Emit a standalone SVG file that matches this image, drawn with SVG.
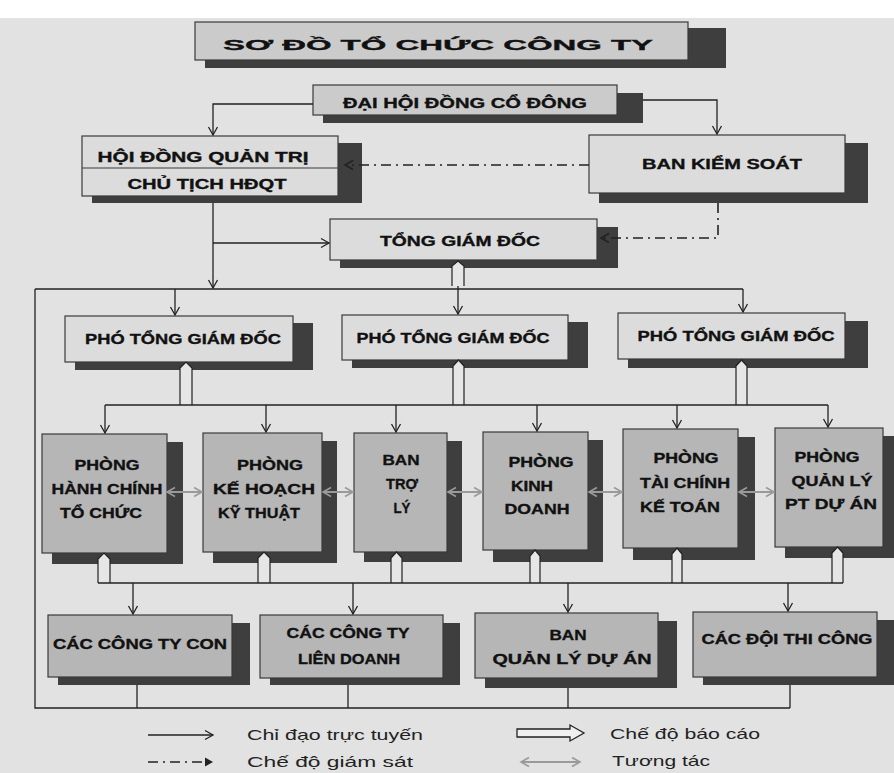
<svg xmlns="http://www.w3.org/2000/svg" width="894" height="773" viewBox="0 0 894 773">
<style>
.bx{fill:#dcdcdc;stroke:#3a3a3a;stroke-width:1.2}
.bt{fill:#cbcbcb;stroke:#3a3a3a;stroke-width:1.2}
.bd{fill:#b6b6b6;stroke:#3a3a3a;stroke-width:1.2}
.sh{fill:#3e3e3e}
.t{font-family:"Liberation Sans",Arial,sans-serif;font-weight:bold;fill:#111;stroke:#111;stroke-width:0.35;text-anchor:middle;font-size:15px}
.lg{font-family:"Liberation Sans",Arial,sans-serif;fill:#222;font-size:15px}
.ln{stroke:#222;stroke-width:1.3;fill:none}
.dd{stroke:#222;stroke-width:1.6;stroke-dasharray:10 5 2 5;fill:none}
.ia{stroke:#9a9a9a;stroke-width:2;fill:none}
.rp{fill:#e6e6e6;stroke:#222;stroke-width:1.2}
</style>
<defs>
<marker id="a" markerWidth="12" markerHeight="12" refX="10" refY="6" orient="auto" markerUnits="userSpaceOnUse"><path d="M2,1.5 L10,6 L2,10.5" fill="none" stroke="#222" stroke-width="1.3"/></marker>
<marker id="d" markerWidth="12" markerHeight="12" refX="10" refY="6" orient="auto" markerUnits="userSpaceOnUse"><path d="M2,1.5 L10,6 L2,10.5" fill="none" stroke="#222" stroke-width="1.6"/></marker>
<marker id="df" markerWidth="12" markerHeight="12" refX="10" refY="6" orient="auto" markerUnits="userSpaceOnUse"><path d="M2,1.5 L10,6 L2,10.5 Z" fill="#222"/></marker>
<marker id="g" markerWidth="12" markerHeight="12" refX="10" refY="6" orient="auto-start-reverse" markerUnits="userSpaceOnUse"><path d="M2,1.5 L10,6 L2,10.5" fill="none" stroke="#9a9a9a" stroke-width="1.6"/></marker>
</defs>
<rect x="0" y="0" width="894" height="773" fill="#ffffff"/>
<rect x="0" y="18" width="894" height="755" fill="#e2e2e2"/>

<g id="title">
<rect class="sh" x="205" y="28" width="521" height="40"/>
<rect class="bt" x="195" y="22" width="493" height="38"/>
<text class="t" x="438" y="50" font-size="25" textLength="430" lengthAdjust="spacingAndGlyphs">SƠ ĐỒ TỔ CHỨC CÔNG TY</text>
</g>

<g id="dhdcd">
<rect class="sh" x="323" y="93" width="320" height="30"/>
<rect class="bt" x="313" y="85" width="304" height="30"/>
<text class="t" x="465" y="108" font-size="14" textLength="244" lengthAdjust="spacingAndGlyphs">ĐẠI HỘI ĐỒNG CỔ ĐÔNG</text>
</g>

<g id="hdqt">
<rect class="sh" x="92" y="143" width="270" height="60"/>
<rect class="bx" x="82" y="136" width="256" height="60"/>
<line x1="82" y1="168" x2="338" y2="168" stroke="#3a3a3a" stroke-width="1.2"/>
<text class="t" x="203" y="162" textLength="211" lengthAdjust="spacingAndGlyphs">HỘI ĐỒNG QUẢN TRỊ</text>
<text class="t" x="207" y="189" textLength="159" lengthAdjust="spacingAndGlyphs">CHỦ TỊCH HĐQT</text>
</g>

<g id="bks">
<rect class="sh" x="599" y="143" width="269" height="60"/>
<rect class="bx" x="589" y="135" width="256" height="58"/>
<text class="t" x="722" y="169" textLength="160" lengthAdjust="spacingAndGlyphs">BAN KIỂM SOÁT</text>
</g>

<g id="tgd">
<rect class="sh" x="340" y="227" width="278" height="41"/>
<rect class="bx" x="330" y="219" width="267" height="41"/>
<text class="t" x="460" y="246" textLength="160" lengthAdjust="spacingAndGlyphs">TỔNG GIÁM ĐỐC</text>
</g>

<g id="ptgd1">
<rect class="sh" x="75" y="323" width="238" height="47"/>
<rect class="bx" x="65" y="316" width="228" height="46"/>
<text class="t" x="183" y="344" textLength="196" lengthAdjust="spacingAndGlyphs">PHÓ TỔNG GIÁM ĐỐC</text>
</g>
<g id="ptgd2">
<rect class="sh" x="352" y="322" width="236" height="46"/>
<rect class="bx" x="342" y="315" width="226" height="45"/>
<text class="t" x="453" y="343" textLength="193" lengthAdjust="spacingAndGlyphs">PHÓ TỔNG GIÁM ĐỐC</text>
</g>
<g id="ptgd3">
<rect class="sh" x="628" y="321" width="240" height="47"/>
<rect class="bx" x="618" y="313" width="227" height="46"/>
<text class="t" x="736" y="341" textLength="197" lengthAdjust="spacingAndGlyphs">PHÓ TỔNG GIÁM ĐỐC</text>
</g>

<g id="p-hcth">
<rect class="sh" x="52" y="442" width="131" height="122"/>
<rect class="bd" x="42" y="434" width="125" height="119"/>
<text class="t" x="107" y="470" textLength="65" lengthAdjust="spacingAndGlyphs">PHÒNG</text>
<text class="t" x="107" y="494" textLength="111" lengthAdjust="spacingAndGlyphs">HÀNH CHÍNH</text>
<text class="t" x="101" y="518" textLength="82" lengthAdjust="spacingAndGlyphs">TỔ CHỨC</text>
</g>
<g id="p-khkt">
<rect class="sh" x="213" y="441" width="124" height="122"/>
<rect class="bd" x="203" y="433" width="119" height="119"/>
<text class="t" x="270" y="470" textLength="66" lengthAdjust="spacingAndGlyphs">PHÒNG</text>
<text class="t" x="264" y="494" textLength="102" lengthAdjust="spacingAndGlyphs">KẾ HOẠCH</text>
<text class="t" x="259" y="518" textLength="82" lengthAdjust="spacingAndGlyphs">KỸ THUẬT</text>
</g>
<g id="ban-troly">
<rect class="sh" x="364" y="441" width="98" height="121"/>
<rect class="bd" x="354" y="433" width="93" height="119"/>
<text class="t" x="401" y="465" textLength="37" lengthAdjust="spacingAndGlyphs">BAN</text>
<text class="t" x="402" y="489" textLength="32" lengthAdjust="spacingAndGlyphs">TRỢ</text>
<text class="t" x="402" y="513" textLength="17" lengthAdjust="spacingAndGlyphs">LÝ</text>
</g>
<g id="p-kd">
<rect class="sh" x="493" y="440" width="110" height="122"/>
<rect class="bd" x="483" y="432" width="105" height="118"/>
<text class="t" x="541" y="467" textLength="65" lengthAdjust="spacingAndGlyphs">PHÒNG</text>
<text class="t" x="532" y="491" textLength="42" lengthAdjust="spacingAndGlyphs">KINH</text>
<text class="t" x="537" y="514" textLength="65" lengthAdjust="spacingAndGlyphs">DOANH</text>
</g>
<g id="p-tckt">
<rect class="sh" x="633" y="437" width="122" height="123"/>
<rect class="bd" x="623" y="429" width="115" height="119"/>
<text class="t" x="686" y="463" textLength="65" lengthAdjust="spacingAndGlyphs">PHÒNG</text>
<text class="t" x="685" y="488" textLength="90" lengthAdjust="spacingAndGlyphs">TÀI CHÍNH</text>
<text class="t" x="680" y="512" textLength="80" lengthAdjust="spacingAndGlyphs">KẾ TOÁN</text>
</g>
<g id="p-qlda">
<rect class="sh" x="785" y="436" width="109" height="122"/>
<rect class="bd" x="775" y="428" width="108" height="119"/>
<text class="t" x="827" y="462" textLength="65" lengthAdjust="spacingAndGlyphs">PHÒNG</text>
<text class="t" x="832" y="486" textLength="81" lengthAdjust="spacingAndGlyphs">QUẢN LÝ</text>
<text class="t" x="831" y="509" textLength="92" lengthAdjust="spacingAndGlyphs">PT DỰ ÁN</text>
</g>

<g id="cty-con">
<rect class="sh" x="58" y="623" width="192" height="62"/>
<rect class="bd" x="48" y="615" width="184" height="62"/>
<text class="t" x="140" y="649" textLength="174" lengthAdjust="spacingAndGlyphs">CÁC CÔNG TY CON</text>
</g>
<g id="cty-ld">
<rect class="sh" x="270" y="623" width="190" height="62"/>
<rect class="bd" x="260" y="615" width="183" height="63"/>
<text class="t" x="348" y="638" textLength="123" lengthAdjust="spacingAndGlyphs">CÁC CÔNG TY</text>
<text class="t" x="349" y="664" textLength="102" lengthAdjust="spacingAndGlyphs">LIÊN DOANH</text>
</g>
<g id="ban-qlda">
<rect class="sh" x="485" y="621" width="192" height="67"/>
<rect class="bd" x="475" y="613" width="183" height="65"/>
<text class="t" x="568" y="640" textLength="37" lengthAdjust="spacingAndGlyphs">BAN</text>
<text class="t" x="572" y="664" textLength="159" lengthAdjust="spacingAndGlyphs">QUẢN LÝ  DỰ ÁN</text>
</g>
<g id="doi-tc">
<rect class="sh" x="703" y="620" width="191" height="65"/>
<rect class="bd" x="693" y="612" width="184" height="65"/>
<text class="t" x="787" y="644" textLength="171" lengthAdjust="spacingAndGlyphs">CÁC ĐỘI THI CÔNG</text>
</g>

<g id="connectors">
<polyline class="ln" points="313,104 213,104 213,135" marker-end="url(#a)"/>
<polyline class="ln" points="643,100 717,100 717,134" marker-end="url(#a)"/>
<line class="dd" x1="589" y1="165" x2="345" y2="165" marker-end="url(#d)"/>
<polyline class="dd" points="718,203 718,238 601,238" marker-end="url(#d)"/>
<line class="ln" x1="213" y1="203" x2="213" y2="288" marker-end="url(#a)"/>
<line class="ln" x1="213" y1="243" x2="329" y2="243" marker-end="url(#a)"/>
<path class="rp" d="M452,286 V266 L458,261 L464,266 V286"/>
<polyline class="ln" points="743,289 743,312" marker-end="url(#a)"/>
<line class="ln" x1="35" y1="289" x2="743" y2="289"/>
<line class="ln" x1="175" y1="289" x2="175" y2="315" marker-end="url(#a)"/>
<line class="ln" x1="458" y1="286" x2="458" y2="314" marker-end="url(#a)"/>
<polyline class="ln" points="35,289 35,708 790,708"/>
<line class="ln" x1="137" y1="685" x2="137" y2="708"/>
<line class="ln" x1="348" y1="685" x2="348" y2="708"/>
<line class="ln" x1="568" y1="688" x2="568" y2="708"/>
<line class="ln" x1="790" y1="685" x2="790" y2="708"/>
<path class="rp" d="M180,405 V368 L186,362 L192,368 V405"/>
<path class="rp" d="M453,405 V366 L458.5,360 L464,366 V405"/>
<path class="rp" d="M736,405 V366 L741.5,360 L747,366 V405"/>
<line class="ln" x1="105" y1="405" x2="828" y2="405"/>
<line class="ln" x1="105" y1="405" x2="105" y2="433" marker-end="url(#a)"/>
<line class="ln" x1="266" y1="405" x2="266" y2="432" marker-end="url(#a)"/>
<line class="ln" x1="396" y1="405" x2="396" y2="432" marker-end="url(#a)"/>
<line class="ln" x1="537" y1="405" x2="537" y2="431" marker-end="url(#a)"/>
<line class="ln" x1="677" y1="405" x2="677" y2="428" marker-end="url(#a)"/>
<line class="ln" x1="828" y1="405" x2="828" y2="427" marker-end="url(#a)"/>
<line class="ia" x1="167" y1="492" x2="202" y2="492" marker-start="url(#g)" marker-end="url(#g)"/>
<line class="ia" x1="323" y1="492" x2="353" y2="492" marker-start="url(#g)" marker-end="url(#g)"/>
<line class="ia" x1="448" y1="492" x2="482" y2="492" marker-start="url(#g)" marker-end="url(#g)"/>
<line class="ia" x1="589" y1="492" x2="622" y2="492" marker-start="url(#g)" marker-end="url(#g)"/>
<line class="ia" x1="739" y1="492" x2="774" y2="492" marker-start="url(#g)" marker-end="url(#g)"/>
<path class="rp" d="M98,583 V559 L104,553 L110,559 V583"/>
<path class="rp" d="M258,583 V558 L264,552 L270,558 V583"/>
<path class="rp" d="M391,583 V558 L396.5,552 L402,558 V583"/>
<path class="rp" d="M530,583 V556 L535,550 L540,556 V583"/>
<path class="rp" d="M672,583 V554 L677,548 L682,554 V583"/>
<path class="rp" d="M832,583 V553 L837.5,547 L843,553 V583"/>
<line class="ln" x1="98" y1="583" x2="843" y2="583"/>
<line class="ln" x1="133" y1="583" x2="133" y2="614" marker-end="url(#a)"/>
<line class="ln" x1="353" y1="583" x2="353" y2="614" marker-end="url(#a)"/>
<line class="ln" x1="568" y1="583" x2="568" y2="612" marker-end="url(#a)"/>
<line class="ln" x1="788" y1="583" x2="788" y2="611" marker-end="url(#a)"/>
</g>

<g id="legend">
<line class="ln" x1="148" y1="735" x2="213" y2="735" marker-end="url(#a)"/>
<text class="lg" x="247" y="740" textLength="176" lengthAdjust="spacingAndGlyphs">Chỉ đạo trực tuyến</text>
<line class="dd" x1="148" y1="762" x2="213" y2="762" marker-end="url(#df)"/>
<text class="lg" x="247" y="767" textLength="166" lengthAdjust="spacingAndGlyphs">Chế độ giám sát</text>
<path d="M517,729 H570 V725 L584,733 L570,741 V737 H517 Z" fill="#f0f0f0" stroke="#222" stroke-width="1.3"/>
<text class="lg" x="610" y="739" textLength="150" lengthAdjust="spacingAndGlyphs">Chế độ báo cáo</text>
<line class="ia" x1="521" y1="762" x2="580" y2="762" marker-start="url(#g)" marker-end="url(#g)"/>
<text class="lg" x="612" y="766" textLength="98" lengthAdjust="spacingAndGlyphs">Tương tác</text>
</g>
</svg>
